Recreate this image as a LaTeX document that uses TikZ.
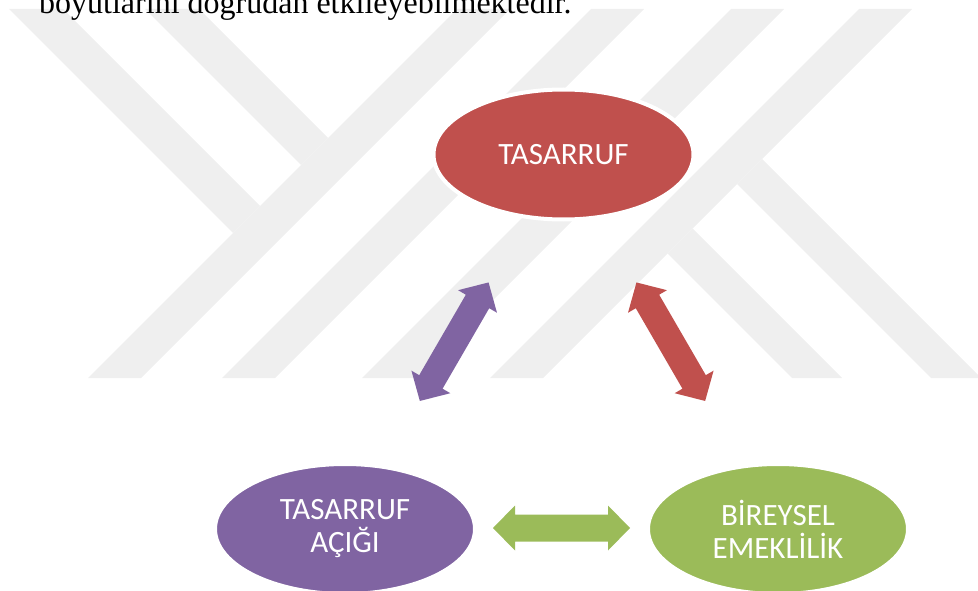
\documentclass[tikz,border=0pt]{standalone}
\usepackage{fontspec}
\newfontfamily\calib{Carlito}
\newfontfamily\tnr{Liberation Serif}
\definecolor{wm}{HTML}{EFEFEF}
\definecolor{cred}{HTML}{C0504D}
\definecolor{cpur}{HTML}{8064A2}
\definecolor{cgrn}{HTML}{9BBB59}
\usetikzlibrary{shapes.geometric}
\tikzset{
  bubble/.style={ellipse, draw=white, line width=4pt, minimum width=260pt,
    minimum height=130pt, inner sep=0pt, text=white,
    font=\calib\fontsize{31}{34}\selectfont, align=center},
  wmband/.style={fill=wm},
  dblarrow/.pic={\path[pic actions] (-68.5,0) -- (-46.5,-22.5) -- (-46.5,-13.5)
    -- (46.5,-13.5) -- (46.5,-22.5) -- (68.5,0) -- (46.5,22.5) -- (46.5,13.5)
    -- (-46.5,13.5) -- (-46.5,22.5) -- cycle;}
}
\begin{document}
\begin{tikzpicture}[x=1pt,y=-1pt]
\useasboundingbox (0,0) rectangle (978,591);
\clip (0,0) rectangle (978,591);
% watermark bands
\fill[wmband] (457,9) -- (510,9) -- (141,378) -- (88,378) -- cycle;
\fill[wmband] (591,9) -- (644,9) -- (275,378) -- (222,378) -- cycle;
\fill[wmband] (731,9) -- (784,9) -- (415,378) -- (362,378) -- cycle;
\fill[wmband] (859,9) -- (912,9) -- (543,378) -- (490,378) -- cycle;
\fill[wmband] (9,9) -- (63,9) -- (260,206) -- (233,233) -- cycle;
\fill[wmband] (145,9) -- (199,9) -- (328,138) -- (301,165) -- cycle;
\fill[wmband] (692.5,228.5) -- (667.5,253.5) -- (792,378) -- (842,378) -- cycle;
\fill[wmband] (762,159) -- (737,184) -- (931,378) -- (981,378) -- cycle;
% top text
\node[anchor=base west, inner sep=0pt, font=\tnr\fontsize{32}{38}\selectfont]
  (txt) at (39,14) {boyutlarını doğrudan etkileyebilmektedir.};
% bubbles
\node[bubble, fill=cred] (tas) at (563.5,154.5) {TASARRUF};
\node[bubble, fill=cpur] (acik) at (345,529) {TASARRUF\\[-1pt]AÇIĞI};
\node[bubble, fill=cgrn] (bes) at (778,529) {BİREYSEL\\[-1pt]EMEKLİLİK};
% double arrows
\pic[fill=cpur, rotate=59.9] (pa) at (454.2,341.7) {dblarrow};
\pic[fill=cred, rotate=-59.9] (pr) at (670.8,341.7) {dblarrow};
\pic[fill=cgrn] (pg) at (561.5,528) {dblarrow};
\end{tikzpicture}
\end{document}
